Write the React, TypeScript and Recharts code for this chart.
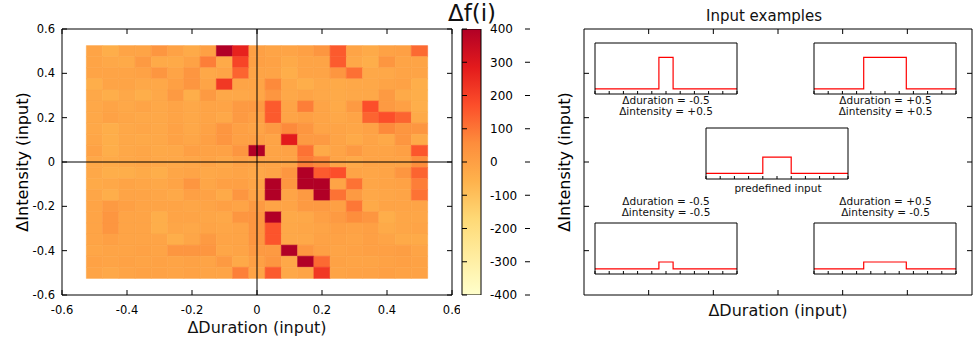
import React from 'react';
import { ComposedChart, LineChart, Line, Bar, Scatter, XAxis, YAxis, ReferenceArea, ReferenceLine, Label } from 'recharts';

// heatmap grid: columns = duration change, rows = intensity change (top row first)
const DURATIONS = [-0.5, -0.45, -0.4, -0.35, -0.3, -0.25, -0.2, -0.15, -0.1, -0.05, 0, 0.05, 0.1, 0.15, 0.2, 0.25, 0.3, 0.35, 0.4, 0.45, 0.5];
const INTENSITIES = [0.5, 0.45, 0.4, 0.35, 0.3, 0.25, 0.2, 0.15, 0.1, 0.05, 0, -0.05, -0.1, -0.15, -0.2, -0.25, -0.3, -0.35, -0.4, -0.45, -0.5];
const DF_ROWS = [
  [-14, -45, -14, -14, 29, -8, -32, -2, 400, 268, -2, -14, -14, -2, 29, 150, -14, -32, -8, -2, 121],
  [-14, -26, -32, 17, -32, -32, -8, 84, -32, 193, -2, -8, -32, -14, -14, 148, -26, -45, 29, -14, -14],
  [-14, -14, -14, -8, 29, -14, 29, -26, -14, 132, -14, -14, -45, -14, -14, 29, 110, -26, -26, -14, -14],
  [-45, -14, -14, -26, -26, -2, 29, -14, 220, -14, -14, 63, -26, -45, -26, -32, -26, -26, -14, -8, -45],
  [-26, -45, -26, -45, -26, 17, -45, 17, -26, -26, -20, 29, -26, -14, -26, -32, -26, -26, 17, -32, -45],
  [-26, -14, -26, -14, -26, -14, -26, -14, -14, 17, 17, 150, -14, 84, -14, -32, 17, 172, 17, -2, -45],
  [-26, -8, -20, -26, -26, -14, -26, -14, -26, 17, -2, 150, -14, -2, -14, -26, -14, 132, 171, 132, -32],
  [-26, -45, -26, -20, -26, -8, -26, -8, 29, -2, -14, 17, 63, 29, -14, -14, -20, -8, 63, 29, 29],
  [-20, -45, -26, -29, -26, -8, -20, -2, 29, -2, -2, -14, 286, 17, 17, -14, -32, -14, -29, 29, -32],
  [-8, -45, -26, -20, -29, -26, -2, -8, -8, 29, 400, -14, -8, 106, -32, -14, 17, -14, -14, -2, 157],
  [-26, -32, -26, -20, -26, -26, -20, -14, -26, -8, -14, -14, -14, 84, 63, -14, -29, -14, -14, -14, 55],
  [-26, -45, -45, -32, -45, -20, -14, -26, -20, -14, -26, -14, 29, 400, 148, 171, -14, -20, -14, 29, 132],
  [-32, -26, -14, -20, -26, -14, 29, -20, -2, -2, -20, 400, 29, 400, 400, -14, 106, -20, -14, -8, 84],
  [-20, -45, -14, -14, -20, -29, -2, -8, -32, 29, -14, 400, -14, 17, 400, 106, 17, -26, -20, -14, 106],
  [-14, 17, -2, -14, -14, -14, -20, -14, -2, -14, 17, -14, -14, 17, 17, -2, 97, -32, -14, -14, -14],
  [-14, 29, -14, -14, -45, -14, -14, -20, -26, 29, 29, 400, -29, -26, -2, 17, 55, 29, -45, -20, -20],
  [-14, 29, -14, -14, -45, -20, -26, -14, -20, -14, 29, 160, -26, -20, -14, -2, -8, -2, -32, -20, -14],
  [-14, -2, -14, -14, -14, -45, -20, 17, -14, -14, 29, 160, -26, -26, -8, -8, -14, -2, -14, -32, -32],
  [-20, -14, -14, -8, -14, 29, 29, 29, -20, -14, 17, 17, 400, 29, -2, -14, -8, -2, -2, 5, -14],
  [-8, -14, -8, -14, -8, -14, -8, -14, 17, -29, -2, 29, -26, 400, 121, -8, -14, -14, -8, -2, -8],
  [-14, -26, -14, -8, -8, -14, -8, -14, -14, 80, -14, 150, -26, -14, 220, -14, -8, -8, -2, -8, -8],
];
const CELL = 0.05;

const AXIS_TICKS = [-0.6, -0.4, -0.2, 0, 0.2, 0.4, 0.6];
const PANEL_TICKS = [-0.4, -0.2, 0, 0.2, 0.4];
const CBAR_TICKS = [-400, -300, -200, -100, 0, 100, 200, 300, 400];
const YLORRD = ['#ffffcc', '#ffeda0', '#fed976', '#feb24c', '#fd8d3c', '#fc4e2a', '#e31a1c', '#b10026'];

// the five input examples (Δduration, Δintensity)
const EXAMPLE_DURATION = [-0.5, 0.5, 0, -0.5, 0.5];
const EXAMPLE_INTENSITY = [0.5, 0.5, 0, -0.5, -0.5];

// input example pulses (time 0..10, level 0..1)
const INSET_TICKS = [0, 1, 2, 3, 4, 5, 6, 7, 8, 9, 10];
const TIME_NARROW = [0, 4.5, 5.5, 10];
const TIME_BASE = [0, 4, 6, 10];
const TIME_WIDE = [0, 3.5, 6.5, 10];
const LEVEL_HIGH = [0.1, 0.72, 0.1, 0.1];
const LEVEL_BASE = [0.11, 0.43, 0.11, 0.11];
const LEVEL_LOW = [0.1, 0.235, 0.1, 0.1];

const hexToRgb = (h: string) => [1, 3, 5].map((k) => parseInt(h.slice(k, k + 2), 16));

function dfColor(v: number) {
  const t = (Math.min(400, Math.max(-400, v)) + 400) / 800 * (YLORRD.length - 1);
  const i = Math.min(YLORRD.length - 2, Math.floor(t));
  const f = t - i;
  const a = hexToRgb(YLORRD[i]);
  const b = hexToRgb(YLORRD[i + 1]);
  const c = a.map((x, k) => Math.round(x + (b[k] - x) * f));
  return `rgb(${c[0]},${c[1]},${c[2]})`;
}

const cells = DF_ROWS.flatMap((row, j) =>
  row.map((v, i) => ({ x: DURATIONS[i], y: INTENSITIES[j], v }))
);
const examples = EXAMPLE_DURATION.map((x, i) => ({ x, y: EXAMPLE_INTENSITY[i] }));
const cbarData = [{ name: 'Δf(i)', range: [CBAR_TICKS[0], CBAR_TICKS[CBAR_TICKS.length - 1]] }];

const pulse = (times: number[], levels: number[]) => times.map((t, k) => ({ t, level: levels[k] }));

const black = { stroke: '#000', strokeWidth: 1 };
const tickFont = { fill: '#000', fontSize: 11.5 };
const noLabel = () => <g />;
const noShape = () => <g />;

const note = (x: number, y: number, lines: string[], size = 10.5) => () => (
  <text x={x} y={y} textAnchor="middle" fontSize={size} fill="#111">
    {lines.map((s, k) => (
      <tspan key={k} x={x} dy={k === 0 ? 0 : 11}>{s}</tspan>
    ))}
  </text>
);

const vTitle = (x: number, y: number, s: string) => () => (
  <text x={x} y={y} transform={`rotate(-90 ${x} ${y})`} textAnchor="middle" fontSize={16} fill="#000">{s}</text>
);

// inward tick marks on all four sides, drawn by mirrored axes
function frameAxes(domX: number[], domY: number[], ticksX: number[], ticksY: number[], size: number, dataKeyX?: string) {
  return [
    <XAxis key="bt" xAxisId="bt" dataKey={dataKeyX} orientation="bottom" mirror type="number" domain={domX} allowDataOverflow
      ticks={ticksX} interval={0} height={8} tickSize={size} tick={noLabel} axisLine={false} tickLine={black} />,
    <XAxis key="tp" xAxisId="tp" dataKey={dataKeyX} orientation="top" mirror type="number" domain={domX} allowDataOverflow
      ticks={ticksX} interval={0} height={8} tickSize={size} tick={noLabel} axisLine={black} tickLine={black} />,
    <YAxis key="lt" yAxisId="lt" orientation="left" mirror type="number" domain={domY} allowDataOverflow
      ticks={ticksY} interval={0} width={8} tickSize={size} tick={noLabel} axisLine={false} tickLine={black} />,
    <YAxis key="rt" yAxisId="rt" orientation="right" mirror type="number" domain={domY} allowDataOverflow
      ticks={ticksY} interval={0} width={8} tickSize={size} tick={noLabel} axisLine={black} tickLine={black} />,
  ];
}

function Inset({ data, left, top }: { data: { t: number; level: number }[]; left: number; top: number }) {
  return (
    <div style={{ position: 'absolute', left, top }}>
      <LineChart width={144} height={53} data={data} margin={{ top: 1, right: 1, bottom: 1, left: 1 }}>
        <XAxis type="number" dataKey="t" orientation="bottom" mirror domain={[0, 10]} allowDataOverflow ticks={INSET_TICKS}
          interval={0} height={6} tickSize={3} tick={noLabel} axisLine={black} tickLine={black} />
        <XAxis xAxisId="tp" dataKey="t" orientation="top" mirror type="number" domain={[0, 10]} allowDataOverflow
          ticks={INSET_TICKS} interval={0} height={6} tickSize={0} tick={noLabel} axisLine={black} tickLine={false} />
        <YAxis type="number" orientation="left" mirror domain={[0, 1]} allowDataOverflow width={6}
          tick={noLabel} tickSize={0} tickLine={false} axisLine={black} />
        <YAxis yAxisId="rt" orientation="right" mirror type="number" domain={[0, 1]} allowDataOverflow width={6}
          tick={noLabel} tickSize={0} tickLine={false} axisLine={black} />
        <Line type="stepAfter" dataKey="level" stroke="#ff0000" strokeWidth={1.2} dot={false} isAnimationActive={false} />
      </LineChart>
    </div>
  );
}

export default function App() {
  const cbarMargin = { top: 29, right: 0, bottom: 44, left: 32 };
  return (
    <div style={{ position: 'absolute', left: 0, top: 0, width: 977, height: 339, background: '#fff', fontFamily: '"DejaVu Sans", sans-serif' }}>
      {/* heatmap */}
      <div style={{ position: 'absolute', left: 0, top: 0 }}>
        <ComposedChart width={460} height={339} data={cells} margin={{ top: 29, right: 8, bottom: 0, left: 0 }}>
          <XAxis type="number" dataKey="x" domain={[-0.6, 0.6]} allowDataOverflow ticks={AXIS_TICKS} interval={0} height={44}
            tickSize={0} tickMargin={11} axisLine={black} tickLine={false} tick={tickFont}>
            <Label content={note(257, 332.5, ['ΔDuration (input)'], 16)} />
          </XAxis>
          <YAxis type="number" domain={[-0.6, 0.6]} allowDataOverflow ticks={AXIS_TICKS} interval={0} width={62}
            tickSize={0} tickMargin={7} axisLine={black} tickLine={false} tick={tickFont}>
            <Label content={vTitle(28, 162, 'ΔIntensity (input)')} />
          </YAxis>
          {frameAxes([-0.6, 0.6], [-0.6, 0.6], AXIS_TICKS, AXIS_TICKS, 5, 'x')}
          {cells.map((c, k) => (
            <ReferenceArea key={k} x1={c.x - CELL / 2} x2={c.x + CELL / 2} y1={c.y - CELL / 2} y2={c.y + CELL / 2}
              fill={dfColor(c.v)} fillOpacity={1} stroke={dfColor(c.v)} strokeWidth={0.6} ifOverflow="visible" />
          ))}
          <ReferenceLine x={0} stroke="#000" strokeWidth={1} />
          <ReferenceLine y={0} stroke="#000" strokeWidth={1} />
          <Scatter dataKey="y" shape={noShape} isAnimationActive={false} />
        </ComposedChart>
      </div>

      {/* colour bar */}
      <div style={{ position: 'absolute', left: 430, top: 0 }}>
        <ComposedChart width={100} height={339} data={cbarData} barCategoryGap={0} margin={cbarMargin}>
          <defs>
            <linearGradient id="ylorrd" x1="0" y1="1" x2="0" y2="0">
              {YLORRD.map((c, i) => (
                <stop key={c} offset={i / (YLORRD.length - 1)} stopColor={c} />
              ))}
            </linearGradient>
          </defs>
          <XAxis dataKey="name" type="category" hide />
          <YAxis orientation="right" type="number" domain={[-400, 400]} allowDataOverflow ticks={CBAR_TICKS}
            interval={0} width={49} tickSize={0} tickMargin={9} axisLine={false} tickLine={false}
            tick={{ fill: '#000', fontSize: 12 }}>
            <Label content={note(42, 21, ['Δf(i)'], 23)} />
          </YAxis>
          <Bar dataKey="range" fill="url(#ylorrd)" stroke="#000" strokeWidth={1} isAnimationActive={false} />
        </ComposedChart>
      </div>
      {/* colour bar tick marks, laid over the bar */}
      <div style={{ position: 'absolute', left: 430, top: 0 }}>
        <ComposedChart width={100} height={339} data={cbarData} margin={cbarMargin}>
          <XAxis dataKey="name" type="category" hide />
          <YAxis orientation="right" type="number" domain={[-400, 400]} allowDataOverflow width={49} hide />
          <YAxis yAxisId="lt" orientation="left" mirror type="number" domain={[-400, 400]} allowDataOverflow ticks={CBAR_TICKS}
            interval={0} width={8} tickSize={5} tick={noLabel} axisLine={false} tickLine={black} />
          <YAxis yAxisId="rt" orientation="right" mirror type="number" domain={[-400, 400]} allowDataOverflow ticks={CBAR_TICKS}
            interval={0} width={8} tickSize={5} tick={noLabel} axisLine={false} tickLine={black} />
        </ComposedChart>
      </div>

      {/* input examples panel */}
      <div style={{ position: 'absolute', left: 540, top: 0 }}>
        <ComposedChart width={437} height={339} data={examples} margin={{ top: 29, right: 5, bottom: 0, left: 0 }}>
          <XAxis type="number" dataKey="x" domain={[-0.6, 0.6]} allowDataOverflow ticks={PANEL_TICKS} interval={0} height={44}
            tick={false} tickLine={false} axisLine={black}>
            <Label content={note(238, 316, ['ΔDuration (input)'], 16)} />
            <Label content={note(224, 21, ['Input examples'], 15)} />
            <Label content={note(126, 104, ['Δduration = -0.5', 'Δintensity = +0.5'])} />
            <Label content={note(345.5, 104, ['Δduration = +0.5', 'Δintensity = +0.5'])} />
            <Label content={note(238, 192, ['predefined input'])} />
            <Label content={note(126, 205, ['Δduration = -0.5', 'Δintensity = -0.5'])} />
            <Label content={note(345.5, 205, ['Δduration = +0.5', 'Δintensity = -0.5'])} />
          </XAxis>
          <YAxis type="number" domain={[-0.6, 0.6]} allowDataOverflow ticks={PANEL_TICKS} interval={0} width={44}
            tick={false} tickLine={false} axisLine={black}>
            <Label content={vTitle(30, 162, 'ΔIntensity (input)')} />
          </YAxis>
          {frameAxes([-0.6, 0.6], [-0.6, 0.6], PANEL_TICKS, PANEL_TICKS, 5, 'x')}
          <Scatter dataKey="y" shape={noShape} isAnimationActive={false} />
        </ComposedChart>
      </div>

      <Inset data={pulse(TIME_NARROW, LEVEL_HIGH)} left={594} top={42} />
      <Inset data={pulse(TIME_WIDE, LEVEL_HIGH)} left={813} top={42} />
      <Inset data={pulse(TIME_BASE, LEVEL_BASE)} left={705} top={127} />
      <Inset data={pulse(TIME_NARROW, LEVEL_LOW)} left={594} top={222} />
      <Inset data={pulse(TIME_WIDE, LEVEL_LOW)} left={813} top={222} />
    </div>
  );
}
